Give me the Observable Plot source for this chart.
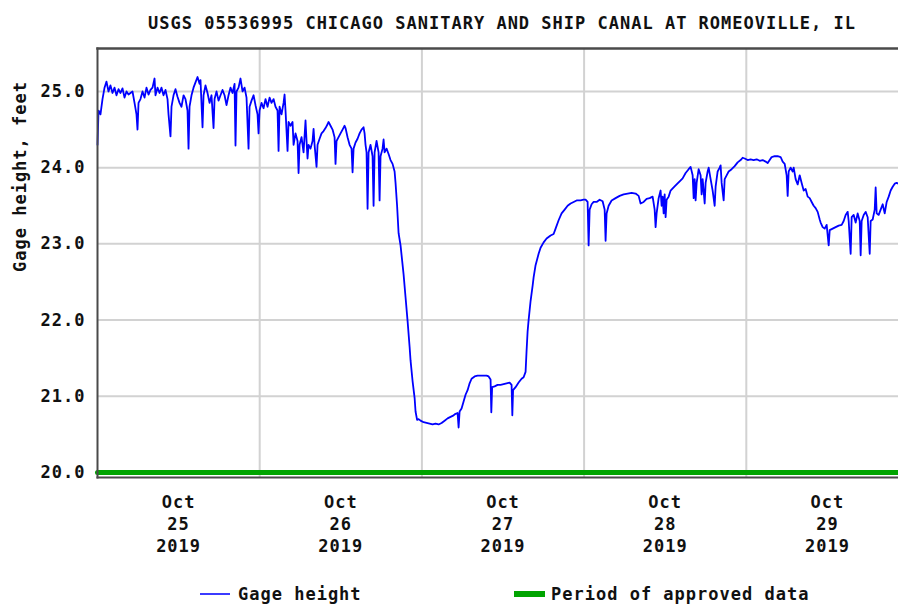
<!DOCTYPE html>
<html>
<head>
<meta charset="utf-8">
<script src="https://cdn.jsdelivr.net/npm/d3@7"></script>
<script src="https://cdn.jsdelivr.net/npm/@observablehq/plot@0.6"></script>
<style>
  html, body { margin: 0; padding: 0; background: #fff; }
  #wrap { position: relative; width: 898px; height: 606px; overflow: hidden; }
  #wrap svg { position: absolute; left: 0; top: 0; }
  .lg { position: absolute; font-family: "DejaVu Sans Mono", monospace; font-weight: bold; font-size: 17px; letter-spacing: 1px; line-height: 20px; color: #111; white-space: nowrap; }
  .sw { position: absolute; }
</style>
</head>
<body>
<div id="wrap"></div>
<script>
// ---- data (hours since 2019-10-25 00:00, gage height in feet) ----
const title = "USGS 05536995 CHICAGO SANITARY AND SHIP CANAL AT ROMEOVILLE, IL";
const yLabel = "Gage height, feet";
const seriesName = "Gage height";
const approvedName = "Period of approved data";

const hours = [0,0.15,0.44,0.74,1.04,1.33,1.63,1.92,2.22,2.52,2.81,3.11,3.40,3.70,4.00,4.29,4.59,4.88,5.18,5.48,5.77,5.92,6.07,6.36,6.66,6.96,7.25,7.55,7.84,8.14,8.44,8.58,8.88,9.18,9.47,9.77,10.06,10.36,10.51,10.80,10.95,11.25,11.54,11.84,12.14,12.43,12.73,13.02,13.32,13.47,13.62,13.91,14.21,14.50,14.80,15.10,15.24,15.54,15.69,15.98,16.28,16.58,16.87,17.17,17.32,17.61,17.91,18.20,18.50,18.80,19.09,19.39,19.68,19.98,20.28,20.42,20.57,20.87,21.16,21.46,21.76,22.05,22.35,22.50,22.79,23.09,23.38,23.68,23.83,23.98,24.27,24.57,24.86,25.16,25.46,25.75,26.05,26.34,26.64,26.79,26.94,27.23,27.53,27.68,27.82,28.12,28.27,28.56,28.86,29.01,29.30,29.60,29.75,29.90,30.19,30.49,30.78,30.93,31.08,31.23,31.52,31.82,31.97,32.12,32.41,32.56,32.86,33.15,33.45,33.74,34.04,34.19,34.48,34.78,35.08,35.22,35.37,35.67,35.96,36.26,36.56,36.70,37.00,37.30,37.59,37.74,37.89,38.18,38.48,38.78,39.07,39.37,39.52,39.66,39.81,39.96,40.11,40.40,40.70,40.85,41.00,41.29,41.59,41.74,41.88,42.18,42.33,42.48,42.77,43.07,43.36,43.66,43.96,44.10,44.33,44.55,44.84,45.29,45.58,45.88,46.18,46.32,46.62,46.92,47.06,47.29,47.51,47.80,48.25,48.69,49.14,49.58,50.02,50.47,50.91,51.36,51.80,52.24,52.69,52.98,53.28,53.43,53.58,53.87,54.17,54.46,54.76,55.06,55.35,55.80,56.24,56.68,57.13,57.57,57.87,58.16,58.27,58.39,58.76,59.20,59.64,60.09,60.53,60.98,61.27,61.38,61.49,61.86,62.31,62.75,63.05,63.34,63.49,63.64,63.79,64.08,64.38,64.53,64.82,65.27,65.56,66.01,66.45,67.04,67.49,67.78,68.23,68.67,69.12,69.56,70.00,70.45,70.89,71.48,71.93,72.22,72.52,72.67,72.82,73.11,73.41,73.85,74.30,74.74,75.04,75.18,75.33,75.63,76.07,76.66,77.26,77.85,78.44,79.03,79.62,80.07,80.36,80.81,81.25,81.70,82.14,82.44,82.58,82.73,83.03,83.32,83.47,83.62,83.77,83.92,84.06,84.21,84.51,84.80,85.25,85.69,86.14,86.58,87.02,87.47,87.76,88.06,88.21,88.36,88.50,88.65,88.95,89.24,89.39,89.54,89.84,89.98,90.28,90.43,90.72,91.02,91.32,91.46,91.76,92.06,92.20,92.35,92.65,92.80,93.09,93.39,93.83,94.28,94.72,95.16,95.46,95.76,96.20,96.64,97.09,97.53,97.98,98.42,98.86,99.16,99.46,99.75,100.20,100.64,101.08,101.38,101.68,101.97,102.12,102.27,102.56,102.86,103.01,103.30,103.60,103.90,104.19,104.49,104.78,105.08,105.38,105.67,105.97,106.26,106.56,106.86,107.00,107.30,107.60,107.89,108.19,108.34,108.78,109.22,109.67,110.11,110.41,110.70,111.00,111.15,111.44,111.59,111.89,112.18,112.48,112.78,112.92,113.07,113.37,113.66,113.96,114.26,114.40,114.70,115.00,115.14,115.29,115.59,115.88,116.18,116.48,116.77,117.07,117.36,117.66,117.96,118.25,118.50];

const gage = [24.30,24.75,24.70,24.90,25.05,25.13,25.00,25.08,24.98,25.05,24.95,25.03,24.98,25.04,24.92,25.00,24.96,24.98,25.00,24.85,24.70,24.50,24.85,24.90,25.00,24.92,25.05,24.96,25.02,25.05,25.17,24.95,25.05,24.98,25.05,24.95,25.02,24.90,24.70,24.41,24.80,24.95,25.03,24.93,24.85,24.80,24.95,24.90,24.75,24.25,24.80,24.95,25.05,25.12,25.19,25.10,25.15,24.53,24.95,25.08,24.98,24.85,24.95,24.52,24.90,25.00,24.88,24.95,25.02,24.95,24.82,24.95,25.05,24.98,25.10,24.29,25.00,25.05,25.17,25.00,25.05,24.92,24.25,24.80,24.88,24.95,24.82,24.70,24.45,24.75,24.85,24.78,24.90,24.80,24.92,24.85,24.90,24.80,24.75,24.22,24.80,24.70,24.85,24.96,24.75,24.22,24.60,24.55,24.60,24.30,24.45,24.35,23.93,24.30,24.40,24.20,24.62,24.35,24.12,24.30,24.25,24.35,24.51,24.30,24.01,24.30,24.38,24.45,24.48,24.52,24.57,24.60,24.55,24.50,24.40,24.05,24.35,24.40,24.45,24.50,24.55,24.52,24.40,24.30,24.25,23.94,24.25,24.33,24.38,24.45,24.50,24.53,24.45,24.30,24.20,23.46,24.20,24.30,24.15,23.50,24.20,24.35,24.20,23.57,24.15,24.25,24.37,24.20,24.25,24.18,24.10,24.05,23.95,23.80,23.50,23.14,22.98,22.60,22.30,21.99,21.65,21.47,21.20,20.98,20.80,20.69,20.70,20.68,20.66,20.65,20.64,20.63,20.64,20.63,20.65,20.68,20.71,20.73,20.75,20.77,20.78,20.59,20.80,20.84,20.93,21.02,21.08,21.17,21.23,21.26,21.27,21.27,21.27,21.27,21.26,21.22,20.79,21.12,21.13,21.15,21.15,21.16,21.17,21.18,21.15,20.75,21.08,21.12,21.18,21.23,21.25,21.32,21.60,21.85,22.00,22.25,22.45,22.56,22.72,22.87,22.95,23.02,23.07,23.11,23.13,23.20,23.31,23.40,23.45,23.50,23.53,23.55,23.57,23.57,23.58,23.58,23.55,22.98,23.45,23.52,23.55,23.55,23.58,23.56,23.45,23.04,23.40,23.50,23.57,23.60,23.63,23.65,23.66,23.67,23.66,23.63,23.53,23.55,23.59,23.60,23.62,23.45,23.22,23.40,23.60,23.70,23.50,23.62,23.40,23.65,23.35,23.58,23.62,23.70,23.74,23.78,23.82,23.86,23.93,23.98,24.01,23.90,23.60,23.85,23.57,23.80,23.98,23.90,23.65,23.85,23.53,23.80,23.95,24.00,23.85,23.70,23.50,23.75,23.95,24.00,24.03,23.80,23.57,23.85,23.90,23.95,23.98,24.02,24.07,24.10,24.13,24.12,24.10,24.11,24.10,24.11,24.09,24.10,24.08,24.06,24.10,24.14,24.15,24.15,24.14,24.08,24.05,23.90,23.63,23.95,24.00,23.95,24.00,23.85,23.78,23.90,23.80,23.70,23.72,23.62,23.60,23.55,23.50,23.47,23.42,23.32,23.28,23.22,23.20,23.25,22.98,23.18,23.20,23.22,23.24,23.25,23.30,23.38,23.42,23.30,22.87,23.35,23.38,23.28,23.40,23.30,22.85,23.30,23.38,23.42,23.35,22.87,23.30,23.32,23.45,23.74,23.40,23.38,23.45,23.52,23.40,23.55,23.62,23.70,23.75,23.79,23.80,23.79];

const approvedHours = [0, 118.52];
const approvedLevel = [20, 20];

const yTicks = [20, 21, 22, 23, 24, 25];
const dayLabels = [25, 26, 27, 28, 29];
const gridDays = [26, 27, 28, 29];

// ---- build ----
const t0 = Date.UTC(2019, 9, 25);
const H = 3600e3;
const data = hours.map((h, i) => ({t: new Date(t0 + h * H), v: gage[i]}));
const approved = approvedHours.map((h, i) => ({t: new Date(t0 + h * H), v: approvedLevel[i]}));
const noon = dayLabels.map(d => new Date(Date.UTC(2019, 9, d, 12)));
const mids = gridDays.map(d => new Date(Date.UTC(2019, 9, d)));

const chart = Plot.plot({
  width: 898,
  height: 606,
  marginLeft: 97,
  marginRight: 0,
  marginTop: 48,
  marginBottom: 129,
  style: {fontFamily: "DejaVu Sans Mono", fontWeight: "bold", fontSize: "17px", letterSpacing: "1px", color: "#111", background: "#fff"},
  x: {type: "utc", domain: [new Date(t0), new Date(t0 + 118.52 * H)]},
  y: {domain: [19.934, 25.564]},
  marks: [
    Plot.gridY(yTicks.slice(1), {stroke: "#d2d2d2", strokeOpacity: 1, strokeWidth: 2}),
    Plot.gridX(mids, {stroke: "#d2d2d2", strokeOpacity: 1, strokeWidth: 2}),
    Plot.line(approved, {x: "t", y: "v", stroke: "#00a400", strokeWidth: 5}),
    Plot.line(data, {x: "t", y: "v", stroke: "#0000ff", strokeWidth: 1.8}),
    Plot.frame({anchor: "left", stroke: "#4a4a4a", strokeWidth: 2}),
    Plot.frame({anchor: "top", stroke: "#4a4a4a", strokeWidth: 2.5}),
    Plot.frame({anchor: "bottom", stroke: "#4a4a4a", strokeWidth: 2}),
    Plot.axisY(yTicks, {tickSize: 0, tickPadding: 12, tickFormat: d => d.toFixed(1), label: null}),
    Plot.axisX(noon, {tickSize: 0, tickPadding: 15, lineHeight: 1.3, tickFormat: (d) => "Oct\n" + d.getUTCDate() + "\n2019", label: null}),
    Plot.text([yLabel], {frameAnchor: "left", rotate: -90, dx: -77, dy: 9, text: d => d}),
    Plot.text([title], {frameAnchor: "top", lineAnchor: "middle", dy: -25, dx: 4, text: d => d, letterSpacing: "1.15px"})
  ]
});

const wrap = document.getElementById("wrap");
wrap.appendChild(chart);

function el(cls, css, txt) {
  const e = document.createElement("div");
  e.className = cls;
  Object.assign(e.style, css);
  if (txt) e.textContent = txt;
  wrap.appendChild(e);
}
el("sw", {left: "200px", top: "593px", width: "30px", height: "2px", background: "#3b3bff"});
el("lg", {left: "238px", top: "584px"}, seriesName);
el("sw", {left: "514px", top: "591px", width: "31px", height: "6px", background: "#00a400"});
el("lg", {left: "551px", top: "584px"}, approvedName);
</script>
</body>
</html>
